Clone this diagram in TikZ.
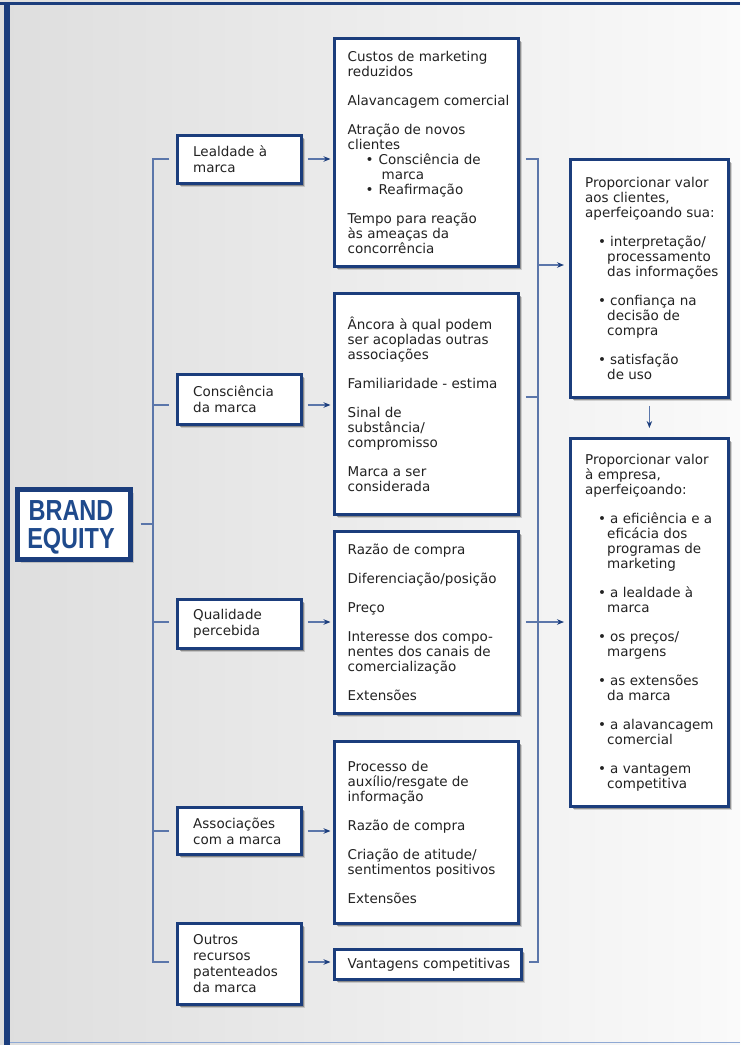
\documentclass[tikz,border=0pt]{standalone}
\usepackage{fontspec}
\usepackage{graphicx}
\setmainfont{DejaVu Sans}
\newfontfamily\brandfont{Liberation Sans}
\usetikzlibrary{arrows.meta,shadows,calc}
\definecolor{navy}{HTML}{1B3D7C}
\definecolor{brandblue}{HTML}{1F4A8C}
\definecolor{conncol}{HTML}{5B76AA}
\definecolor{bgl}{HTML}{DEDEDE}
\definecolor{bgr}{HTML}{FAFAFA}
\definecolor{botline}{HTML}{8FA9D4}
\definecolor{txtc}{HTML}{222222}
\newcommand\bu[2]{\hspace*{#1pt}\makebox[#2pt][l]{•}}
\lineskiplimit=-30pt
\begin{document}
\lineskiplimit=-30pt
\begin{tikzpicture}[x=1pt,y=-1pt,
  box/.style={draw=navy, line width=2.8pt, fill=white, inner sep=0pt, anchor=north west,
     drop shadow={shadow xshift=4pt, shadow yshift=-4pt, opacity=.15, fill=black},
     drop shadow={shadow xshift=2.5pt, shadow yshift=-2.5pt, opacity=.3, fill=black}},
  txt/.style={anchor=west, align=left, inner sep=0pt, text=txtc,
     font=\fontsize{13.5}{15}\selectfont},
  ltxt/.style={txt, font=\fontsize{13.5}{16}\selectfont},
  brandtxt/.style={inner sep=0pt, text=brandblue, font=\brandfont\bfseries\fontsize{29}{26}\selectfont},
  connline/.style={draw=conncol, line width=1.1pt},
  arr/.style={connline, -{Stealth[length=7pt,width=5.5pt,color=navy]}},
]
\useasboundingbox (0,0) rectangle (740,1045);
\shade[left color=bgl, right color=bgr] (0,0) rectangle (740,1045);
\fill[navy] (0,1.5) rectangle (740,4.5);
\fill[navy] (3.5,1.5) rectangle (10,1045);
\draw[botline, line width=1.5pt] (10,1042.5) -- (740,1042.5);

% row coordinates
\coordinate (r0) at (153,524);
\coordinate (r1) at (153,159);
\coordinate (r2) at (153,405);
\coordinate (r3) at (153,622);
\coordinate (r4) at (153,831);
\coordinate (r5) at (153,962);
\coordinate (v1) at (538,159);
\coordinate (v2) at (538,397);
\coordinate (v3) at (538,622);
\coordinate (va) at (538,265);
\coordinate (v5) at (538,962);

% brand equity
\node[box, line width=4.5pt, minimum width=113pt, minimum height=70pt] (be) at (15,487) {};
\node[brandtxt, anchor=base] (bet1) at (71,520) {\scalebox{0.81}[1]{BRAND}};
\node[brandtxt, anchor=base] (bet2) at (71,548) {\scalebox{0.81}[1]{EQUITY}};

% left boxes
\node[box, minimum width=124pt, minimum height=48pt] (l1) at (176,134) {};
\node[ltxt] (l1t) at ([xshift=17pt]l1.west) {Lealdade à\\marca};
\node[box, minimum width=124pt, minimum height=50pt] (l2) at (176,373) {};
\node[ltxt] (l2t) at ([xshift=17pt]l2.west) {Consciência\\da marca};
\node[box, minimum width=124pt, minimum height=49pt] (l3) at (176,598) {};
\node[ltxt] (l3t) at ([xshift=17pt]l3.west) {Qualidade\\percebida};
\node[box, minimum width=124pt, minimum height=47pt] (l4) at (176,806) {};
\node[ltxt] (l4t) at ([xshift=17pt]l4.west) {Associações\\com a marca};
\node[box, minimum width=124pt, minimum height=81pt] (l5) at (176,922) {};
\node[ltxt] (l5t) at ([xshift=17pt]l5.west) {Outros\\recursos\\patenteados\\da marca};

% middle boxes
\node[box, minimum width=184pt, minimum height=228pt] (m1) at (333,37) {};
\node[txt] (m1t) at ([xshift=14.5pt]m1.west) {Custos de marketing\\
reduzidos\\[14pt]
Alavancagem comercial\\[14pt]
Atração de novos\\
clientes\\
\bu{18}{13}Consciência de\\
\hspace*{34pt}marca\\
\bu{18}{13}Reafirmação\\[14pt]
Tempo para reação\\
às ameaças da\\
concorrência};

\node[box, minimum width=184pt, minimum height=221pt] (m2) at (333,292) {};
\node[txt] (m2t) at ([xshift=14.5pt]m2.west) {Âncora à qual podem\\
ser acopladas outras\\
associações\\[14pt]
Familiaridade - estima\\[14pt]
Sinal de\\
substância/\\
compromisso\\[14pt]
Marca a ser\\
considerada};

\node[box, minimum width=184pt, minimum height=182pt] (m3) at (333,530) {};
\node[txt] (m3t) at ([xshift=14.5pt]m3.west) {Razão de compra\\[14pt]
Diferenciação/posição\\[14pt]
Preço\\[14pt]
Interesse dos compo-\\
nentes dos canais de\\
comercialização\\[14pt]
Extensões};

\node[box, minimum width=184pt, minimum height=182pt] (m4) at (333,740) {};
\node[txt] (m4t) at ([xshift=14.5pt]m4.west) {Processo de\\
auxílio/resgate de\\
informação\\[14pt]
Razão de compra\\[14pt]
Criação de atitude/\\
sentimentos positivos\\[14pt]
Extensões};

\node[box, minimum width=187pt, minimum height=30pt] (m5) at (333,948) {};
\node[txt] (m5t) at ([xshift=14.5pt]m5.west) {Vantagens competitivas};

% right boxes
\node[box, minimum width=158pt, minimum height=238pt] (ra) at (569,158) {};
\node[txt] (rat) at ([xshift=16pt]ra.west) {Proporcionar valor\\
aos clientes,\\
aperfeiçoando sua:\\[14pt]
\bu{13}{12}interpretação/\\
\hspace*{22pt}processamento\\
\hspace*{22pt}das informações\\[14pt]
\bu{13}{12}confiança na\\
\hspace*{22pt}decisão de\\
\hspace*{22pt}compra\\[14pt]
\bu{13}{12}satisfação\\
\hspace*{22pt}de uso};

\node[box, minimum width=158pt, minimum height=368pt] (rb) at (569,437) {};
\node[txt] (rbt) at ([xshift=16pt]rb.west) {Proporcionar valor\\
à empresa,\\
aperfeiçoando:\\[14pt]
\bu{13}{12}a eficiência e a\\
\hspace*{22pt}eficácia dos\\
\hspace*{22pt}programas de\\
\hspace*{22pt}marketing\\[14pt]
\bu{13}{12}a lealdade à\\
\hspace*{22pt}marca\\[14pt]
\bu{13}{12}os preços/\\
\hspace*{22pt}margens\\[14pt]
\bu{13}{12}as extensões\\
\hspace*{22pt}da marca\\[14pt]
\bu{13}{12}a alavancagem\\
\hspace*{22pt}comercial\\[14pt]
\bu{13}{12}a vantagem\\
\hspace*{22pt}competitiva};

% connectors: left trunk
\draw[connline, shorten <=8pt] (r0 -| be.east) -- (r0);
\draw[connline, shorten <=7pt, shorten >=7pt] (r1 -| l1.west) -- (r1) -- (r5) -- (r5 -| l5.west);
\draw[connline, shorten >=7pt] (r2) -- (r2 -| l2.west);
\draw[connline, shorten >=7pt] (r3) -- (r3 -| l3.west);
\draw[connline, shorten >=7pt] (r4) -- (r4 -| l4.west);

% left -> middle arrows
\draw[arr, shorten <=5pt, shorten >=2.5pt] (r1 -| l1.east) -- (r1 -| m1.west);
\draw[arr, shorten <=5pt, shorten >=2.5pt] (r2 -| l2.east) -- (r2 -| m2.west);
\draw[arr, shorten <=5pt, shorten >=2.5pt] (r3 -| l3.east) -- (r3 -| m3.west);
\draw[arr, shorten <=5pt, shorten >=2.5pt] (r4 -| l4.east) -- (r4 -| m4.west);
\draw[arr, shorten <=5pt, shorten >=2.5pt] (r5 -| l5.east) -- (r5 -| m5.west);

% right collector
\draw[connline, shorten <=6pt, shorten >=6pt] (v1 -| m1.east) -- (v1) -- (v5) -- (v5 -| m5.east);
\draw[connline, shorten <=6pt] (v2 -| m2.east) -- (v2);
\draw[connline, shorten <=6pt] (v3 -| m3.east) -- (v3);
\draw[arr, shorten >=5pt] (va) -- (va -| ra.west);
\draw[arr, shorten >=5pt] (v3) -- (v3 -| rb.west);
\draw[arr, shorten <=7pt, shorten >=9pt] (ra.south) -- (rb.north);
\end{tikzpicture}
\end{document}
